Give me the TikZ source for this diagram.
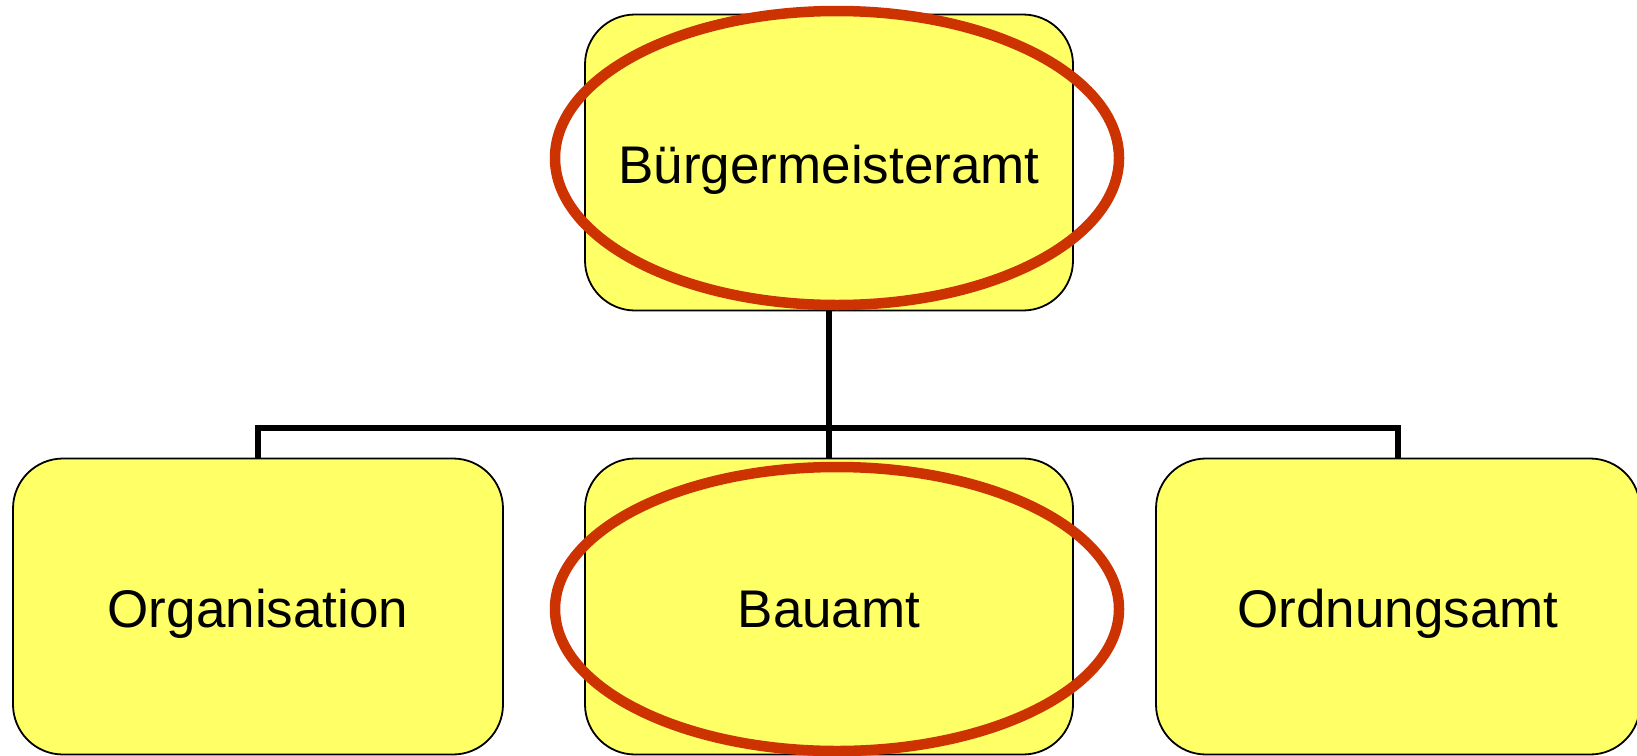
\documentclass[tikz,border=0pt]{standalone}
\usepackage{fontspec}
\setmainfont{Liberation Sans}
\definecolor{boxyellow}{RGB}{255,255,102}
\definecolor{ringred}{RGB}{204,51,0}
\begin{document}
\begin{tikzpicture}[x=1pt,y=-1pt,
  orgbox/.style={draw=black,line width=1.8pt,fill=boxyellow,rounded corners=50pt,
    minimum width=488pt,minimum height=296pt,inner sep=0pt,
    text height=52pt,text depth=10pt,
    font=\fontsize{53}{60}\selectfont},
  link/.style={draw=black,line width=5.5pt},
  ring/.style={draw=ringred,line width=10.5pt}]
\useasboundingbox (0,0) rectangle (1637,755);
\node[orgbox] (top) at (829,162.5) {Bürgermeisteramt};
\node[orgbox,minimum width=490pt] (left) at (258,606.5) {Organisation};
\node[orgbox] (mid) at (829,606.5) {Bauamt};
\node[orgbox,minimum width=484pt] (right) at (1398,606.5) {Ordnungsamt};
\coordinate (j) at (829,428);
\draw[link] (top.south) -- (j) -- (mid.north);
\draw[link] (left.north) |- (j) -| (right.north);
\draw[ring] (837,158) ellipse [x radius=282, y radius=147];
\draw[ring] (837,609) ellipse [x radius=282, y radius=142];
\end{tikzpicture}
\end{document}
